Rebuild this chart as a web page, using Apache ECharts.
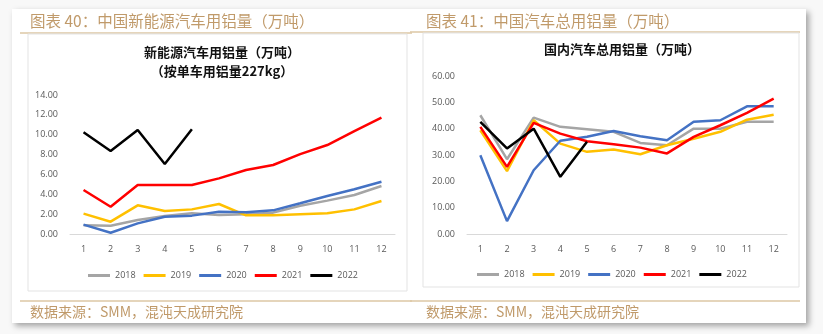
<!DOCTYPE html>
<html><head><meta charset="utf-8">
<script src="https://cdn.jsdelivr.net/npm/echarts@6/dist/echarts.min.js"></script>
<style>html,body{margin:0;padding:0;background:#f8f8f8;}#c{width:823px;height:334px;}</style>
</head><body><div id="c"></div>
<script>
const months = ['1','2','3','4','5','6','7','8','9','10','11','12'];
const years = ['2018','2019','2020','2021','2022'];
const colors = ['#a5a5a5','#ffc000','#4472c4','#ff0000','#000000'];
// Left: NEV aluminium usage (10k tonnes)
const nev2018 = [0.87,0.84,1.41,1.81,2.08,1.91,1.98,2.15,2.85,3.36,3.93,4.83];
const nev2019 = [2.05,1.24,2.89,2.32,2.48,3.02,1.88,1.88,1.98,2.08,2.48,3.32];
const nev2020 = [0.94,0.13,1.07,1.74,1.85,2.25,2.18,2.38,3.09,3.83,4.50,5.27];
const nev2021 = [4.43,2.75,4.93,4.93,4.93,5.60,6.44,6.95,8.05,8.96,10.37,11.71];
const nev2022 = [10.24,8.36,10.47,7.05,10.54];
// Right: total auto aluminium usage (10k tonnes)
const tot2018 = [45.1,28.4,44.2,40.7,39.8,38.8,34.6,33.7,40.0,40.0,42.6,42.6];
const tot2019 = [39.4,23.9,43.2,34.3,31.2,32.1,30.3,33.7,36.2,38.8,43.4,45.3];
const tot2020 = [29.9,4.9,24.2,35.4,36.9,39.1,37.1,35.6,42.6,43.2,48.5,48.5];
const tot2021 = [40.7,25.5,42.2,38.1,35.2,34.1,32.8,30.6,36.9,41.3,46.0,51.4];
const tot2022 = [42.6,32.5,40.0,21.7,35.0];
const leftTicks = [0,2,4,6,8,10,12,14];
const rightTicks = [0,10,20,30,40,50,60];

const chart = echarts.init(document.getElementById('c'));
const tan = '#c09a6a';
const font = '"Noto Sans CJK SC", "Noto Sans", sans-serif';
const lab = {color:'#595959', fontSize:9, fontFamily:'"Open Sans", "Noto Sans", sans-serif'};
function mkSeries(arrs, idx){
  return arrs.map((d,i)=>({name:years[i], type:'line', xAxisIndex:idx, yAxisIndex:idx, data:d,
    symbol:'none', lineStyle:{width:2.5, color:colors[i]}, itemStyle:{color:colors[i]}, z:2+i}));
}
chart.setOption({
  animation:false,
  color: colors,
  graphic:[
    {type:'rect', shape:{x:12,y:9,width:794,height:314}, style:{fill:'#fff', shadowBlur:6, shadowOffsetX:3, shadowOffsetY:3, shadowColor:'rgba(0,0,0,0.35)'}, z:-10},
    {type:'line', shape:{x1:20,y1:33,x2:412,y2:33}, style:{stroke:'#dcc7a5', lineWidth:1.5}, z:-5},
    {type:'line', shape:{x1:410,y1:32,x2:800,y2:32}, style:{stroke:'#dcc7a5', lineWidth:1.5}, z:-5},
    {type:'line', shape:{x1:20,y1:301,x2:412,y2:301}, style:{stroke:'#dcc7a5', lineWidth:1.5}, z:-5},
    {type:'line', shape:{x1:410,y1:301,x2:800,y2:301}, style:{stroke:'#dcc7a5', lineWidth:1.5}, z:-5},
    {type:'rect', shape:{x:28,y:34,width:379,height:257}, style:{fill:'#fff', stroke:'#e3e3e3', lineWidth:1}, z:-4},
    {type:'rect', shape:{x:423,y:33,width:376,height:254}, style:{fill:'#fff', stroke:'#e3e3e3', lineWidth:1}, z:-4},
    {type:'text', left:30, top:13, style:{text:'图表 40：中国新能源汽车用铝量（万吨）', fill:tan, fontSize:15.5, fontFamily:font}},
    {type:'text', left:426, top:13, style:{text:'图表 41：中国汽车总用铝量（万吨）', fill:tan, fontSize:15.5, fontFamily:font}},
    {type:'text', left:30, top:305, style:{text:'数据来源：SMM，混沌天成研究院', fill:tan, fontSize:14, fontFamily:font}},
    {type:'text', left:426, top:305, style:{text:'数据来源：SMM，混沌天成研究院', fill:tan, fontSize:14, fontFamily:font}}
  ],
  title:[
    {text:'新能源汽车用铝量（万吨）\n（按单车用铝量227kg）', left:217, top:38, textAlign:'center',
     textStyle:{fontSize:13, fontWeight:'bold', color:'#111', fontFamily:font, lineHeight:19}},
    {text:'国内汽车总用铝量（万吨）', left:617, top:38, textAlign:'center',
     textStyle:{fontSize:13, fontWeight:'bold', color:'#111', fontFamily:font}}
  ],
  legend:[
    {data:years, left:83, top:266, itemWidth:22, itemHeight:3, itemGap:8, icon:'rect', textStyle:lab},
    {data:years, left:472, top:265, itemWidth:22, itemHeight:3, itemGap:8, icon:'rect', textStyle:lab}
  ],
  grid:[
    {left:70, right:428, top:95, bottom:100},
    {left:467, right:36, top:76, bottom:100}
  ],
  xAxis:[
    {type:'category', gridIndex:0, data:months, axisLine:{lineStyle:{color:'#d9d9d9'}}, axisTick:{show:false}, axisLabel:Object.assign({margin:11},lab)},
    {type:'category', gridIndex:1, data:months, axisLine:{lineStyle:{color:'#d9d9d9'}}, axisTick:{show:false}, axisLabel:Object.assign({margin:11},lab)}
  ],
  yAxis:[
    {type:'value', gridIndex:0, min:leftTicks[0], max:leftTicks[leftTicks.length-1], interval:leftTicks[1]-leftTicks[0], splitLine:{show:false}, axisLine:{show:false}, axisTick:{show:false},
     axisLabel:Object.assign({margin:12, formatter:v=>v.toFixed(2)},lab)},
    {type:'value', gridIndex:1, min:rightTicks[0], max:rightTicks[rightTicks.length-1], interval:rightTicks[1]-rightTicks[0], splitLine:{show:false}, axisLine:{show:false}, axisTick:{show:false},
     axisLabel:Object.assign({margin:12, formatter:v=>v.toFixed(2)},lab)}
  ],
  series: mkSeries([nev2018,nev2019,nev2020,nev2021,nev2022],0).concat(mkSeries([tot2018,tot2019,tot2020,tot2021,tot2022],1))
});
</script></body></html>
